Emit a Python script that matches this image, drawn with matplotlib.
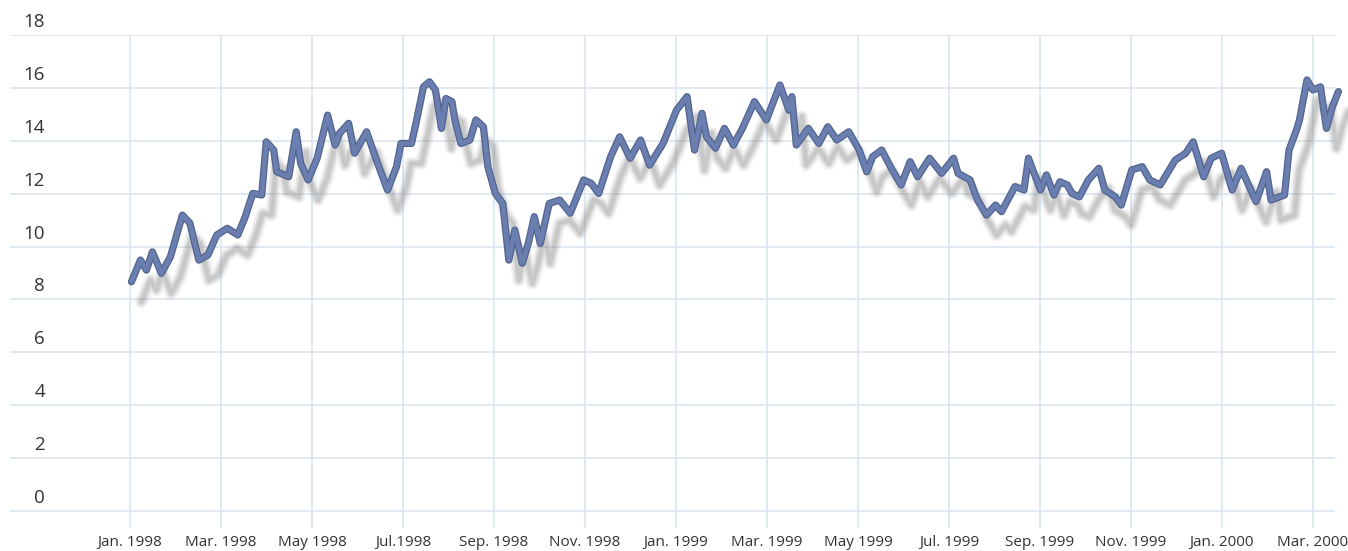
import matplotlib
matplotlib.use("Agg")
import matplotlib.pyplot as plt
import matplotlib.patheffects as pe
from matplotlib.transforms import offset_copy
import numpy as np

# days since 1 Jan 1998 and the series value at that day
days = [1, 7, 11, 15, 21, 27, 35, 40, 46, 52, 58, 65, 72, 77, 82, 88, 91, 96, 98, 106,
        111, 114, 119, 125, 132, 137, 140, 146, 150, 158, 165, 172, 178, 181, 188, 191, 196, 200, 204, 208,
        211, 215, 217, 221, 227, 231, 236, 239, 244, 249, 253, 257, 262, 266, 270, 274, 280, 287, 294, 303,
        308, 313, 321, 327, 334, 341, 347, 356, 365, 372, 377, 382, 385, 391, 397, 403, 409, 417, 425, 434,
        440, 442, 445, 453, 460, 466, 472, 480, 487, 492, 496, 502, 509, 515, 521, 526, 534, 542, 550, 553,
        561, 566, 572, 578, 582, 591, 597, 600, 608, 612, 617, 621, 626, 629, 634, 640, 647, 651, 658, 662,
        669, 676, 681, 688, 698, 705, 710, 717, 722, 729, 736, 742, 752, 759, 762, 771, 774, 779, 781, 786,
        790, 795, 799, 803, 807]
values = [8.67, 9.49, 9.11, 9.80, 8.99, 9.61, 11.19, 10.89, 9.49, 9.68, 10.44, 10.69, 10.44, 11.13, 12.01, 11.95, 13.96, 13.65, 12.83, 12.64,
          14.34, 13.15, 12.52, 13.34, 14.97, 13.84, 14.28, 14.66, 13.53, 14.34, 13.21, 12.14, 13.02, 13.90, 13.90, 14.66, 16.04, 16.23, 15.92, 14.47,
          15.60, 15.48, 14.79, 13.90, 14.03, 14.79, 14.53, 13.02, 12.01, 11.63, 9.49, 10.62, 9.37, 10.12, 11.13, 10.12, 11.63, 11.76, 11.26, 12.52,
          12.39, 12.01, 13.40, 14.15, 13.34, 14.03, 13.08, 13.90, 15.16, 15.67, 13.65, 15.04, 14.15, 13.72, 14.47, 13.84, 14.47, 15.48, 14.79, 16.11,
          15.16, 15.67, 13.84, 14.47, 13.90, 14.53, 14.03, 14.34, 13.65, 12.83, 13.40, 13.65, 12.90, 12.33, 13.21, 12.64, 13.34, 12.77, 13.34, 12.77,
          12.52, 11.76, 11.19, 11.57, 11.32, 12.27, 12.14, 13.34, 12.14, 12.71, 11.95, 12.45, 12.33, 12.01, 11.88, 12.52, 12.96, 12.14, 11.88, 11.57,
          12.90, 13.02, 12.52, 12.33, 13.27, 13.53, 13.96, 12.64, 13.34, 13.53, 12.14, 12.96, 11.70, 12.83, 11.76, 11.95, 13.65, 14.41, 14.79, 16.30,
          15.92, 16.04, 14.47, 15.29, 15.86]

month_labels = ["Jan. 1998", "Mar. 1998", "May 1998", "Jul.1998", "Sep. 1998", "Nov. 1998", "Jan. 1999",
                "Mar. 1999", "May 1999", "Jul. 1999", "Sep. 1999", "Nov. 1999", "Jan. 2000", "Mar. 2000"]
y_ticks = [0, 2, 4, 6, 8, 10, 12, 14, 16, 18]

W, H = 1348, 551
fig = plt.figure(figsize=(W / 100, H / 100), dpi=100)
ax = fig.add_axes([10 / W, (H - 528) / H, 1325 / W, 493 / H])

grid_color = "#dae5f0"
tick_pos = np.arange(len(month_labels)) * 790 / 13

ax.set_xlim(-80.1, 804.7)
ax.set_ylim(-0.64, 18)
for s in ax.spines.values():
    s.set_visible(False)

for y in y_ticks:
    ax.axhline(y, color=grid_color, lw=1.2, zorder=0)
for x in tick_pos:
    ax.axvline(x, color=grid_color, lw=1.2, zorder=0)

ax.set_yticks([])
ax.set_xticks(tick_pos)
ax.set_xticklabels(month_labels, fontsize=11, color="#333333", family="Open Sans")
ax.tick_params(axis="x", length=0, pad=5)

for y in y_ticks:
    ax.annotate(str(y), xy=(0, y), xycoords=("axes fraction", "data"),
                xytext=(35, 13), textcoords="offset pixels", ha="right", va="center",
                fontsize=13.5, color="#333333", family="Open Sans")

# soft drop shadow, several faint passes to fake a blur
for lw, a in [(14, 0.05), (12, 0.06), (10, 0.08), (8, 0.10), (6, 0.13), (4, 0.16)]:
    tr = offset_copy(ax.transData, fig=fig, x=10, y=-20, units="dots")
    ax.plot(days, values, color="#8a8a8a", lw=lw * 0.72, alpha=a, transform=tr,
            solid_joinstyle="round", solid_capstyle="round", clip_on=False, zorder=1)

ax.plot(days, values, color="#6a7eaf", lw=3.4, solid_joinstyle="round", solid_capstyle="round",
        clip_on=False, zorder=3,
        path_effects=[pe.Stroke(linewidth=5.2, foreground="#52648f"), pe.Normal()])

fig.savefig("out.png", dpi=100)
